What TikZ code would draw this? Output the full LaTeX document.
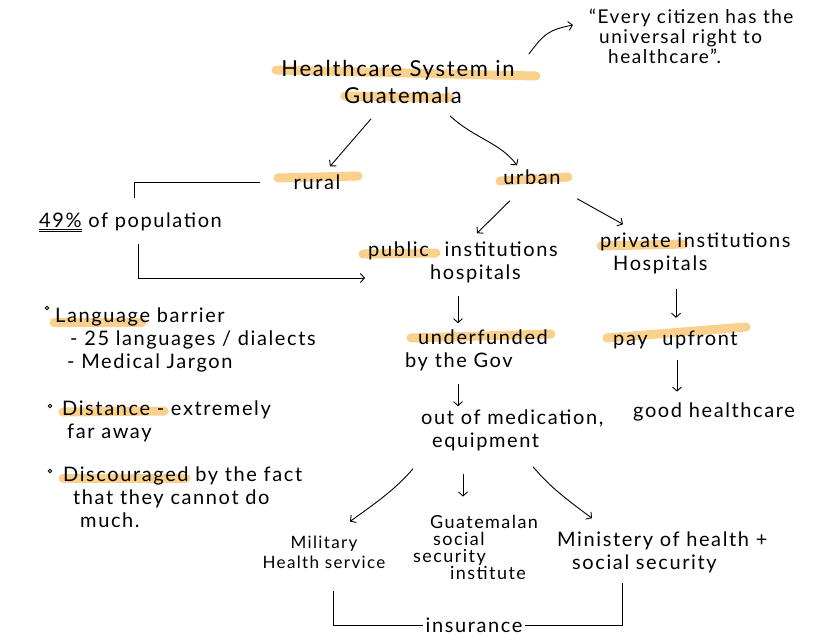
\documentclass[tikz,border=0pt]{standalone}
\usepackage{fontspec}
\setmainfont{Lato}[LetterSpace=8]
\usetikzlibrary{arrows.meta}
\definecolor{marker}{RGB}{249,208,140}
\tikzset{
  txt/.style={font=\fontsize{20}{23}\selectfont, inner sep=2pt, align=left},
  hl/.style={draw=marker, line width=9pt, line cap=round},
  ar/.style={-{Straight Barb[length=4pt,width=9pt]}, line width=0.9pt},
  ln/.style={line width=0.9pt}
}
\begin{document}
\begin{tikzpicture}[x=1pt,y=-1pt]
\useasboundingbox (0,0) rectangle (833,642);

% highlighter marks
\draw [hl] (276,70) -- (536,76);
\draw [hl] (345,96) -- (450,98);
\draw [hl] (278,178) -- (358,176);
\draw [hl] (500,181) -- (568,177);
\draw [hl] (363,254) -- (436,253);
\draw [hl] (601,246) -- (684,244);
\draw [hl] (411,338) -- (551,334);
\draw [hl] (607,338) -- (746,327);
\draw [hl] (54,322) -- (142,322);
\draw [hl] (63,412) -- (164,411);
\draw [hl] (63,478) -- (186,478);

% top
\node [txt, font=\fontsize{22}{27}\selectfont, align=center] (title) at (398,82) {Healthcare System in\\\hspace*{10pt}Guatemala};
\node [txt, font=\fontsize{19}{20}\selectfont, anchor=west] (quote) at (587,36) {“Every citizen has the\\\hspace*{10pt}universal right to\\\hspace*{19pt}healthcare”.};
\node [txt] (rural) at (317,182) {rural};
\node [txt] (urban) at (532,177) {urban};
\node [txt, anchor=west] (pop) at (37,222) {\underline{\underline{49\%}} of population};

% institutions
\node [txt, anchor=west] (pubinst) at (366,262) {public\hspace{9pt} institutions\\\hspace*{62pt}hospitals};
\node [txt, anchor=west] (privinst) at (598,253) {private institutions\\\hspace*{13pt}Hospitals};
\node [txt, anchor=west] (under) at (403,350) {\hspace*{13pt}underfunded\\by the Gov};
\node [txt, anchor=west] (outmed) at (419,430) {out of medication,\\\hspace*{11pt}equipment};
\node [txt, anchor=west] (pay) at (611,340) {pay\hspace{8pt} upfront};
\node [txt, anchor=west] (good) at (631,412) {good healthcare};

% bottom row
\node [txt, font=\fontsize{17}{20}\selectfont, align=center] (military) at (324,552) {Military\\Health service};
\node [txt, font=\fontsize{18}{17}\selectfont, anchor=west] (gss) at (411,547) {\hspace*{17pt}Guatemalan\\\hspace*{20pt}social\\security\\\hspace*{37pt}institute};
\node [txt, anchor=west] (ministry) at (555,552) {Ministery of health +\\\hspace*{15pt}social security};
\node [txt] (insurance) at (474,625) {insurance};

% left notes
\draw [ln] (47,308) circle (1.8);
\draw [ln] (50,406) circle (1.8);
\draw [ln] (50,471) circle (1.8);
\node [txt, anchor=west] (lang) at (53,340) {Language barrier\\\hspace*{15pt}- 25 languages / dialects\\\hspace*{12pt}- Medical Jargon};
\node [txt, anchor=west] (dist) at (60,421) {Distance - extremely\\\hspace*{5pt}far away};
\node [txt, anchor=west] (disc) at (61,497) {Discouraged by the fact\\\hspace*{10pt}that they cannot do\\\hspace*{17pt}much.};

% arrows
\draw [ar] ([xshift=12pt,yshift=4pt]title.north east) .. controls +(15,-20) and +(-25,5) .. ([xshift=-14pt,yshift=11pt]quote.west);
\draw [ar] ([xshift=-27pt,yshift=-13pt]title.south) -- ([xshift=13pt,yshift=6pt]rural.north);
\draw [ar] ([xshift=52pt,yshift=-10pt]title.south) .. controls +(25,23) and +(-17,-23) .. ([xshift=-15pt,yshift=2pt]urban.north);
\draw [ar] ([xshift=-22pt,yshift=-14pt]urban.south) -- ([xshift=111pt,yshift=6pt]pubinst.north west);
\draw [ar] ([xshift=45pt,yshift=-12pt]urban.south) -- ([xshift=25pt,yshift=6pt]privinst.north west);
\draw [ar] ([xshift=92pt,yshift=-11pt]pubinst.south west) -- ([xshift=55pt,yshift=4pt]under.north west);
\draw [ar] ([xshift=55pt,yshift=-11pt]under.south west) -- ([xshift=39pt,yshift=1pt]outmed.north west);
\draw [ar] ([xshift=78pt,yshift=-13pt]privinst.south west) -- ([xshift=65pt,yshift=11pt]pay.north west);
\draw [ar] ([xshift=66pt,yshift=-9pt]pay.south west) -- ([xshift=46pt,yshift=9pt]good.north west);
\draw [ar] ([xshift=-6pt,yshift=-16pt]outmed.south west) .. controls +(-18,21) and +(25,-18) .. ([xshift=26pt,yshift=12pt]military.north);
\draw [ar] ([xshift=44pt,yshift=-21pt]outmed.south west) -- ([xshift=52pt,yshift=16pt]gss.north west);
\draw [ar] ([xshift=114pt,yshift=-14pt]outmed.south west) .. controls +(17,20) and +(-27,-20) .. ([xshift=37pt,yshift=11pt]ministry.north west);

% brackets
\draw [ln] ([xshift=-31pt]rural.west) -| ([xshift=97pt,yshift=12pt]pop.north west);
\draw [ar] ([xshift=101pt,yshift=-10pt]pop.south west) |- ([xshift=-1pt,yshift=-16pt]pubinst.west);
\draw [ln] ([xshift=9pt,yshift=-20pt]military.south) |- (insurance.west);
\draw [ln] (insurance.east) -| ([xshift=67pt,yshift=-8pt]ministry.south west);

\end{tikzpicture}
\end{document}
